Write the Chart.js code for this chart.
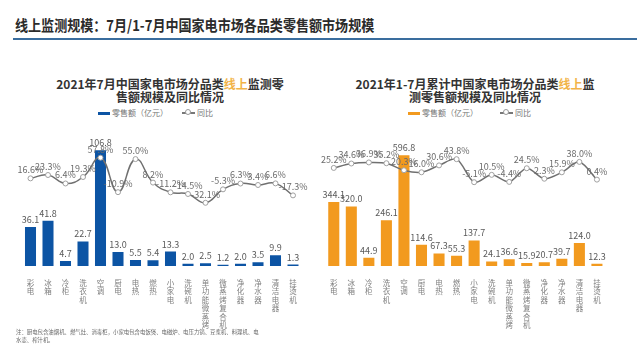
<!DOCTYPE html>
<html>
<head>
<meta charset="utf-8">
<script src="https://cdn.jsdelivr.net/npm/chart.js@4"></script>
<style>
    body { margin: 0; width: 640px; height: 360px; background: #fff; overflow: hidden; position: relative; font-family: "Noto Sans CJK SC", sans-serif; }
    .head { position: absolute; left: 15px; top: 14px; font-size: 15px; font-weight: bold; color: #2b2b2b; white-space: nowrap; transform: scaleX(0.87); transform-origin: left top; }
    .rule { position: absolute; left: 13px; top: 38px; width: 624px; height: 2px; background: #3a6d9e; }
    .ctitle { position: absolute; width: 300px; text-align: center; font-size: 12px; font-weight: bold; color: #333; line-height: 13px; }
    .ctitle em { font-style: normal; color: #f2b347; }
    .legend { position: absolute; top: 107px; font-size: 8px; color: #777; white-space: nowrap; }
    .legend span { position: absolute; }
    .box { position: absolute; height: 3px; top: 5px; width: 12px; }
    .lline { position: absolute; height: 1.5px; top: 5px; width: 13px; background: #777; }
    .dot { position: absolute; width: 4px; height: 4px; border: 1px solid #999; border-radius: 50%; background: #fff; top: 2px; }
    canvas { position: absolute; }
    .note { position: absolute; left: 16px; top: 328px; font-size: 5.4px; line-height: 8px; color: #666; white-space: nowrap; }
</style>
</head>
<body>
<div class="head">线上监测规模：7月/1-7月中国家电市场各品类零售额市场规模</div>
<div class="rule"></div>

<div class="ctitle" style="left:20px; top:77px;">2021年7月中国家电市场分品类<em>线上</em>监测零<br>售额规模及同比情况</div>
<div class="ctitle" style="left:325px; top:77px;">2021年1-7月累计中国家电市场分品类<em>线上</em>监<br>测零售额规模及同比情况</div>

<div class="legend" style="left:98px;">
    <div class="box" style="left:0; background:#0c54a4;"></div>
    <span style="left:14px;">零售额（亿元）</span>
    <div class="lline" style="left:84px;"></div><div class="dot" style="left:87px;"></div>
    <span style="left:99px;">同比</span>
</div>
<div class="legend" style="left:408px;">
    <div class="box" style="left:0; background:#f29a1f;"></div>
    <span style="left:14px;">零售额（亿元）</span>
    <div class="lline" style="left:92px;"></div><div class="dot" style="left:95px;"></div>
    <span style="left:107px;">同比</span>
</div>

<canvas id="chartMonth" width="320" height="210" style="left:0; top:120px;"></canvas>
<canvas id="chartYtd" width="320" height="210" style="left:320px; top:120px;"></canvas>

<div class="note">注：厨电包含油烟机、燃气灶、消毒柜，小家电包含电饭煲、电磁炉、电压力锅、豆浆机、料理机、电<br>水壶、榨汁机。</div>

<script>
"use strict";

const categories = ['彩电', '冰箱', '冷柜', '洗衣机', '空调', '厨电', '电热', '燃热', '小家电', '洗碗机', '单功能微蒸烤', '微蒸烤复合机', '净化器', '净水器', '清洁电器', '挂烫机'];

// 2021年7月
const monthSales = [36.1, 41.8, 4.7, 22.7, 106.8, 13.0, 5.5, 5.4, 13.3, 2.0, 2.5, 1.2, 2.0, 3.5, 9.9, 1.3];
const monthYoy = [16.6, 23.3, 6.4, 19.3, 57.8, -10.9, 55.0, 8.2, -11.2, -14.5, -32.1, -5.3, 6.3, 3.4, 6.6, -17.3];

// 2021年1-7月累计
const ytdSales = [344.1, 320.0, 44.9, 246.1, 596.8, 114.6, 67.3, 55.3, 137.7, 24.1, 36.6, 15.9, 20.7, 39.7, 124.0, 12.3];
const ytdYoy = [25.2, 34.6, 36.9, 35.2, 20.3, 16.0, 30.6, 43.8, -5.1, 10.5, -4.4, 24.5, 2.3, 15.9, 38.0, 0.4];

var valueLabels = {
    id: 'valueLabels',
    afterDatasetsDraw: function (chart) {
        const ctx = chart.ctx;
        ctx.save();
        ctx.font = '9px "Noto Sans CJK SC"';
        ctx.textAlign = 'center';
        ctx.textBaseline = 'bottom';
        chart.data.datasets.forEach(function (ds, i) {
            const meta = chart.getDatasetMeta(i);
            meta.data.forEach(function (el, j) {
                const v = ds.data[j];
                if (ds.type === 'line') {
                    ctx.fillStyle = '#6b6b6b';
                    ctx.fillText(v.toFixed(1) + '%', el.x, el.y - 4);
                } else {
                    ctx.fillStyle = '#5a5a5a';
                    ctx.fillText(v.toFixed(1), el.x, el.y - 3);
                }
            });
        });
        ctx.restore();
    }
};

var buildChart = function (id, sales, yoy, barColor, yMax, y1Min, y1Max, padLeft, padRight, tension) {
    const ctx = document.getElementById(id).getContext('2d');
    return new Chart(ctx, {
        data: {
            labels: categories.map(c => c.split('')),
            datasets: [{
                type: 'line',
                label: '同比',
                data: yoy,
                yAxisID: 'y1',
                order: 0,
                borderColor: '#707070',
                borderWidth: 1.5,
                tension: tension,
                pointRadius: 2.5,
                pointBorderWidth: 1,
                pointBorderColor: '#a0a0a0',
                pointBackgroundColor: '#fff'
            }, {
                type: 'bar',
                label: '零售额（亿元）',
                data: sales,
                yAxisID: 'y',
                order: 1,
                backgroundColor: barColor,
                barPercentage: 0.63,
                categoryPercentage: 1
            }]
        },
        options: {
            responsive: false,
            animation: false,
            devicePixelRatio: 1,
            layout: { padding: { left: padLeft, right: padRight, top: 16, bottom: 0 } },
            plugins: { legend: { display: false }, tooltip: { enabled: false } },
            scales: {
                x: {
                    grid: { display: false },
                    border: { display: false },
                    ticks: {
                        autoSkip: false,
                        maxRotation: 0,
                        padding: 5,
                        color: '#808080',
                        font: { size: 7.5, family: '"Noto Sans CJK SC"', lineHeight: 1.12 }
                    },
                    afterFit: function (scale) { scale.height = 64; }
                },
                y: { display: false, min: 0, max: yMax },
                y1: { display: false, min: y1Min, max: y1Max }
            }
        },
        plugins: [valueLabels]
    });
};

buildChart('chartMonth', monthSales, monthYoy, '#0c54a4', 120, -158, 101, 21.75, 18.25, 0.45);
buildChart('chartYtd', ytdSales, ytdYoy, '#f29a1f', 700, -183, 93, 3.7, 34.3, 0.3);
</script>
</body>
</html>
